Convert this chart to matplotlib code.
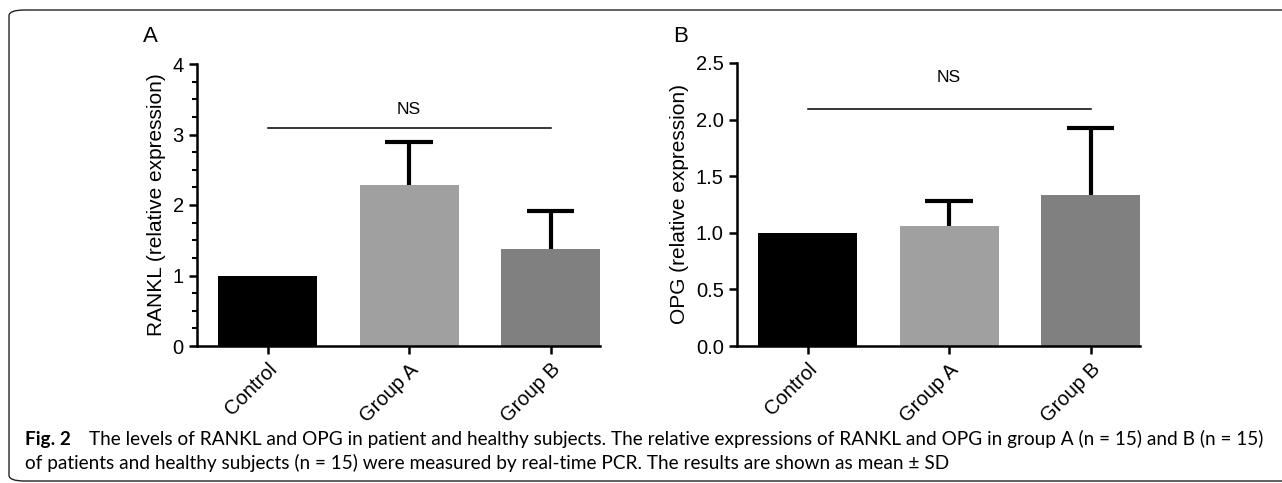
import numpy as np
import matplotlib.pyplot as plt
from matplotlib.patches import FancyBboxPatch
from matplotlib.ticker import MultipleLocator

plt.rcParams['font.family'] = ['Liberation Sans', 'DejaVu Sans']

groups = ["Control", "Group A", "Group B"]
rankl_mean = [1.0, 2.28, 1.38]
rankl_sd = [0.0, 0.61, 0.53]
opg_mean = [1.0, 1.06, 1.33]
opg_sd = [0.0, 0.22, 0.60]
bar_colors = ["#000000", "#a0a0a0", "#808080"]

W, H = 1282, 483
fig = plt.figure(figsize=(W / 100, H / 100), dpi=100)

def panel(rect, means, sds, ylim, major, minor, ylabel, ns_y, ns_text_y):
    ax = fig.add_axes(rect)
    x = np.arange(len(groups))
    ax.bar(x, means, width=0.7, color=bar_colors, zorder=2)
    # upper error bars only
    for xi, m, s in zip(x, means, sds):
        if s > 0:
            ax.vlines(xi, m, m + s, color='black', lw=3, zorder=3)
            ax.hlines(m + s, xi - 0.167, xi + 0.167, color='black', lw=3, zorder=3)
    ax.set_xlim(-0.5, 2.35)
    ax.set_ylim(*ylim)
    ax.yaxis.set_major_locator(MultipleLocator(major))
    if minor:
        ax.yaxis.set_minor_locator(MultipleLocator(minor))
    ax.set_xticks(x)
    ax.set_xticklabels(groups, rotation=45, ha='right', rotation_mode='anchor', fontsize=14)
    ax.tick_params(axis='both', direction='out', width=1.8, length=6, labelsize=14.5)
    ax.tick_params(axis='y', which='minor', direction='out', width=1.5, length=3.5)
    ax.tick_params(axis='x', pad=4)
    for s in ['top', 'right']:
        ax.spines[s].set_visible(False)
    for s in ['left', 'bottom']:
        ax.spines[s].set_linewidth(1.8)
    ax.set_ylabel(ylabel, fontsize=15, labelpad=5)
    ax.plot([0, 2], [ns_y, ns_y], color='black', lw=1.1, clip_on=False)
    ax.text(1, ns_text_y, "NS", ha='center', va='center', fontsize=12.5)
    return ax

axA = panel([197 / W, 1 - 346 / H, 403 / W, 282 / H], rankl_mean, rankl_sd, (0, 4), 1, 0.25,
            "RANKL (relative expression)", 3.09, 3.35)
axB = panel([737 / W, 1 - 346 / H, 403 / W, 283 / H], opg_mean, opg_sd, (0, 2.5), 0.5, None,
            "OPG (relative expression)", 2.09, 2.37)
axB.yaxis.set_major_formatter(plt.FormatStrFormatter('%.1f'))

fig.text(150 / W, 1 - 37 / H, "A", fontsize=16, ha='center', va='center')
fig.text(681 / W, 1 - 37 / H, "B", fontsize=16, ha='center', va='center')

# caption
cap_font = ['Lato', 'DejaVu Sans']
line1 = "The levels of RANKL and OPG in patient and healthy subjects. The relative expressions of RANKL and OPG in group A (n = 15) and B (n = 15)"
line2 = "of patients and healthy subjects (n = 15) were measured by real-time PCR. The results are shown as mean \u00b1 SD"
renderer = fig.canvas.get_renderer()
t_fig = fig.text(25 / W, 1 - 445 / H, "Fig. 2", fontsize=12, fontweight='bold', va='baseline', family=cap_font)
t1 = fig.text(89 / W, 1 - 445 / H, line1, fontsize=12, va='baseline', family=cap_font)
w1 = t1.get_window_extent(renderer).width
size = 12 * (1258 - 89) / w1
t1.set_fontsize(size)
t_fig.set_fontsize(size)
fig.text(25 / W, 1 - 469 / H, line2, fontsize=size, va='baseline', family=cap_font)

border = FancyBboxPatch((9 / W, 1 - 481 / H), 1.02, (481 - 10) / H,
                        boxstyle="round,pad=0,rounding_size=0.012",
                        transform=fig.transFigure, fill=False, edgecolor='#222222', lw=1)
fig.patches.append(border)

fig.savefig("out.png", dpi=100)
